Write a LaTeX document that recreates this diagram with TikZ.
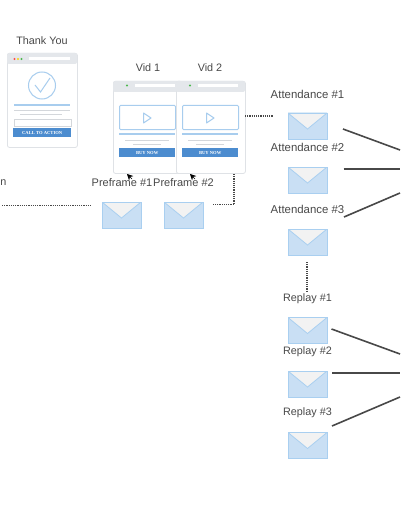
\documentclass[tikz,border=0pt]{standalone}
\usepackage{fontspec}
\setmainfont{Liberation Sans}
\newfontfamily\btnfont{Liberation Serif}
\usetikzlibrary{arrows.meta}
\definecolor{envfill}{HTML}{C9DFF4}
\definecolor{envline}{HTML}{A9CFF0}
\definecolor{flapfill}{HTML}{F2F2F2}
\definecolor{inkgray}{HTML}{484848}
\definecolor{barfill}{HTML}{E4E7EB}
\definecolor{pageline}{HTML}{DFE2E6}
\definecolor{bluemain}{HTML}{4C8CCF}
\definecolor{bluelight}{HTML}{A8CDEE}
\definecolor{grayline}{HTML}{D4D7DB}
\tikzset{
  lbl/.style={font=\fontsize{10.8}{12}\selectfont, text=inkgray, inner sep=0pt},
  lblwide/.style={font=\fontsize{11.4}{12}\selectfont, text=inkgray, inner sep=0pt},
  lblpre/.style={font=\fontsize{11}{12}\selectfont, text=inkgray, inner sep=0pt},
  envbox/.style={draw=envline, line width=0.8pt, fill=envfill, minimum width=39pt, minimum height=26pt, inner sep=0pt,
    path picture={\fill[flapfill, draw=envline, line width=0.8pt] (path picture bounding box.north west) -- ([yshift=-16pt]path picture bounding box.north) -- (path picture bounding box.north east) -- cycle;}},
  pagebox/.style={draw=pageline, line width=0.8pt, fill=white, rounded corners=2pt, inner sep=0pt},
  solidlink/.style={draw=inkgray, line width=1.6pt},
  dotlink/.style={draw=inkgray, line width=1.1pt, dash pattern=on 1.1pt off 1.1pt},
  headlink/.style={draw=black, line width=0.6pt, -{Stealth[length=6pt,width=6pt]}},
  btn/.style={fill=bluemain, text=white, inner sep=0pt, font=\btnfont\bfseries\fontsize{4.6}{5}\selectfont},
}
% browser window showing a video; #1 name, #2 left x, #3 top y
\newcommand{\vidpage}[3]{%
  \node[pagebox, anchor=north west, minimum width=69pt, minimum height=92pt] (#1) at (#2,#3) {};
  \fill[barfill, rounded corners=2pt] (#2,#3) rectangle ++(69,11);
  \fill[green!60!black!70] (#2+14,#3+4.5) circle (1.2);
  \fill[white] (#2+22,#3+3) rectangle ++(40,3.5);
  \node[draw=bluelight, line width=1pt, fill=white, rounded corners=1pt, anchor=north west, minimum width=56pt, minimum height=24pt, inner sep=0pt] (#1frame) at (#2+6,#3+24) {};
  \draw[bluelight, line width=1pt, line join=round] (#2+30.5,#3+32) -- (#2+38,#3+37) -- (#2+30.5,#3+42) -- cycle;
  \fill[bluelight] (#2+6,#3+52) rectangle ++(56,2.4);
  \draw[grayline, line width=0.9pt] (#2+12,#3+59.5) -- ++(44,0);
  \draw[grayline, line width=0.9pt] (#2+20,#3+63.5) -- ++(28,0);
  \node[btn, anchor=north west, minimum width=56pt, minimum height=9pt] (#1btn) at (#2+6,#3+67) {BUY NOW};
}
\begin{document}
\begin{tikzpicture}[x=1pt,y=-1pt]
\useasboundingbox (0,0) rectangle (400,516);
% Thank-you page
\node[pagebox, anchor=north west, minimum width=70pt, minimum height=94pt] (thanks) at (7,53) {};
\fill[barfill, rounded corners=2pt] (7,53) rectangle (77,64);
\fill[red!70!white] (14.5,59) circle (1.2);
\fill[yellow!70!orange] (18,59) circle (1.2);
\fill[green!60!black!70] (21.5,59) circle (1.2);
\fill[white] (29,57) rectangle (70,60.5);
\node[draw=bluelight, line width=1pt, circle, minimum size=27pt, inner sep=0pt] (tick) at (42,85.5) {};
\draw[bluelight, line width=1pt] (35,85) -- (40.5,92) -- (50,78);
\fill[bluelight] (14,104) rectangle (70,106.2);
\draw[grayline, line width=0.9pt] (14,110) -- (70,110);
\draw[grayline, line width=0.9pt] (20,114.5) -- (62,114.5);
\node[draw=grayline, line width=0.8pt, fill=white, anchor=north west, minimum width=57pt, minimum height=7pt, inner sep=0pt] (field) at (13.5,119) {};
\node[btn, anchor=north west, minimum width=58pt, minimum height=9pt] (cta) at (13,128) {CALL TO ACTION};
\node[lbl] (tytext) at (42,41) {Thank You};
% Video pages
\vidpage{vidA}{113}{81}
\vidpage{vidB}{176}{81}
\node[lbl] (vidAtext) at (148,68) {Vid 1};
\node[lbl] (vidBtext) at (210,68) {Vid 2};
% Preframes
\node[lbl, anchor=west] (cutoff) at (0.3,183) {n};
\node[lblpre] (preAtext) at (122,183) {Preframe \#1};
\node[lblpre] (preBtext) at (183.5,183) {Preframe \#2};
\node[envbox] (preA) at (121.5,215) {};
\node[envbox] (preB) at (183.5,215) {};
% Attendance
\node[lblwide] (attAtext) at (307.5,94) {Attendance \#1};
\node[envbox] (attA) at (307.5,126) {};
\node[lblwide] (attBtext) at (307.5,147) {Attendance \#2};
\node[envbox] (attB) at (307.5,180) {};
\node[lblwide] (attCtext) at (307.5,209.5) {Attendance \#3};
\node[envbox] (attC) at (307.5,242) {};
% Replay
\node[lbl] (repAtext) at (307.5,298.5) {Replay \#1};
\node[envbox] (repA) at (307.5,330.5) {};
\node[lbl] (repBtext) at (307.5,352) {Replay \#2};
\node[envbox] (repB) at (307.5,384) {};
\node[lbl] (repCtext) at (307.5,413) {Replay \#3};
\node[envbox] (repC) at (307.5,445.5) {};
% Free connector ends
\coordinate (sA) at (343,129); \coordinate (eA) at (400,150);
\coordinate (sB) at (343.5,169); \coordinate (eB) at (400,169);
\coordinate (sC) at (344,217); \coordinate (eC) at (400,193);
\coordinate (sD) at (331.5,329); \coordinate (eD) at (400,354);
\coordinate (sE) at (332,373); \coordinate (eE) at (400,373);
\coordinate (sF) at (332,426); \coordinate (eF) at (400,397);
\draw[solidlink] (sA) -- (eA);
\draw[solidlink] (sB) -- (eB);
\draw[solidlink] (sC) -- (eC);
\draw[solidlink] (sD) -- (eD);
\draw[solidlink] (sE) -- (eE);
\draw[solidlink] (sF) -- (eF);
% Dotted connectors
\coordinate (dL) at (2,205.5); \coordinate (dR) at (92,205.5);
\draw[dotlink] (dL) -- (dR);
\coordinate (vS) at (245,116); \coordinate (vE) at (273,116);
\draw[dotlink] (vS) -- (vE);
\coordinate (bS) at (234,174); \coordinate (bE) at (213,204.5);
\draw[dotlink] (bS) |- (bE);
\coordinate (rS) at (307,262); \coordinate (rE) at (307,292);
\draw[dotlink] (rS) -- (rE);
% Small arrowheads
\coordinate (hA) at (132,179); \coordinate (hAt) at (127,174);
\coordinate (hB) at (195,179); \coordinate (hBt) at (190,174);
\draw[headlink] (hA) -- (hAt);
\draw[headlink] (hB) -- (hBt);
\end{tikzpicture}
\end{document}
